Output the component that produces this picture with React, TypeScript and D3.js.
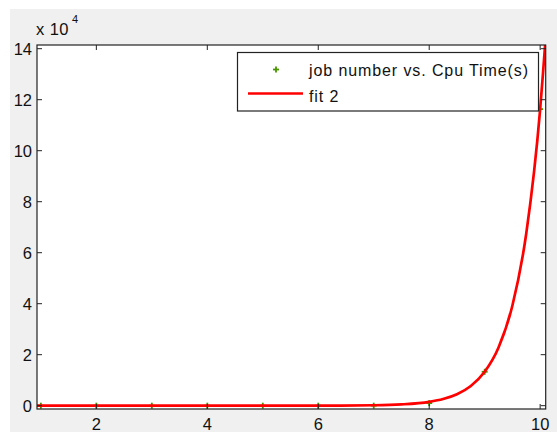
import React from "react";
import * as d3 from "d3";

const jobNumbers = [1, 2, 3, 4, 5, 6, 7, 8, 9, 10];
const cpuTimes = [0, 0, 0, 0, 0, 0, 0, 1000, 13300, 116300];

const fitX = [0.93, 5, 6, 7, 7.5, 8, 8.25, 8.5, 8.75, 9, 9.25, 9.5, 9.75, 10, 10.05, 10.1];
const fitY = [0, 2, 20, 173, 512, 1516, 2610, 4490, 7720, 13280, 22800, 39300, 67600, 116300, 130000, 144500];

const xTicks = [2, 4, 6, 8, 10];
const yTicks = [0, 2, 4, 6, 8, 10, 12, 14];

const legendLabels = ["job number vs. Cpu Time(s)", "fit 2"];

export default function App() {
  const W = 557, H = 432;
  const L = 37, R = 545.7, T = 45, B = 409;
  const x = d3.scaleLinear().domain([0.93, 10.1]).range([L, R]);
  const y = d3.scaleLinear().domain([-1300, 141450]).range([B, T]);
  const line = d3
    .line<number>()
    .x((_, i) => x(fitX[i]))
    .y((d) => y(d))
    .curve(d3.curveMonotoneX);
  const font = "'Liberation Sans', Arial, sans-serif";
  const green = "#4a9600";
  const red = "#ff0000";
  const tickLen = 5;
  const tickFont = 16.5;
  const plus = (cx: number, cy: number, k: string) => (
    <g key={k} stroke={green} strokeWidth={1.8}>
      <line x1={cx - 3} x2={cx + 3} y1={cy} y2={cy} />
      <line x1={cx} x2={cx} y1={cy - 3} y2={cy + 3} />
    </g>
  );
  return (
    <svg
      width={W}
      height={H}
      style={{ position: "absolute", left: 0, top: 0 }}
      fontFamily={font}
    >
      <rect x={0} y={0} width={W} height={H} fill="#ffffff" />
      <rect x={10} y={9} width={W - 10} height={H - 9} fill="#f0f0f0" />
      <rect x={L} y={T} width={R - L} height={B - T} fill="#ffffff" />
      <defs>
        <clipPath id="clip">
          <rect x={L} y={T} width={R - L} height={B - T} />
        </clipPath>
      </defs>
      <g clipPath="url(#clip)">
        {jobNumbers.map((j, i) => plus(x(j), y(cpuTimes[i]), "p" + i))}
        <path d={line(fitY) || ""} fill="none" stroke={red} strokeWidth={2.7} />
      </g>
      <rect x={L} y={T} width={R - L} height={B - T} fill="none" stroke="#222" strokeWidth={1.2} />
      {xTicks.map((t) => (
        <g key={"x" + t}>
          <line x1={x(t)} x2={x(t)} y1={B} y2={B - tickLen} stroke="#222" />
          <line x1={x(t)} x2={x(t)} y1={T} y2={T + tickLen} stroke="#222" />
          <text x={x(t)} y={B + 21} textAnchor="middle" fontSize={tickFont} fill="#111">
            {t}
          </text>
        </g>
      ))}
      {yTicks.map((t) => (
        <g key={"y" + t}>
          <line x1={L} x2={L + tickLen} y1={y(t * 1e4)} y2={y(t * 1e4)} stroke="#222" />
          <line x1={R} x2={R - tickLen} y1={y(t * 1e4)} y2={y(t * 1e4)} stroke="#222" />
          <text x={L - 5} y={y(t * 1e4) + 6} textAnchor="end" fontSize={tickFont} fill="#111">
            {t}
          </text>
        </g>
      ))}
      <text x={36} y={35} fontSize={16.5} letterSpacing={0.4} fill="#111">
        x 10
      </text>
      <text x={72} y={23} fontSize={11} fill="#111">
        4
      </text>
      <rect x={237.5} y={52.5} width={301} height={58.5} fill="#ffffff" stroke="#222" strokeWidth={1.2} />
      {plus(276, 69.5, "leg")}
      <text x={309} y={76} fontSize={16} letterSpacing={0.9} fill="#111">
        {legendLabels[0]}
      </text>
      <line x1={248} x2={303} y1={93.5} y2={93.5} stroke={red} strokeWidth={2.7} />
      <text x={309} y={101.5} fontSize={16} letterSpacing={0.9} fill="#111">
        {legendLabels[1]}
      </text>
    </svg>
  );
}
